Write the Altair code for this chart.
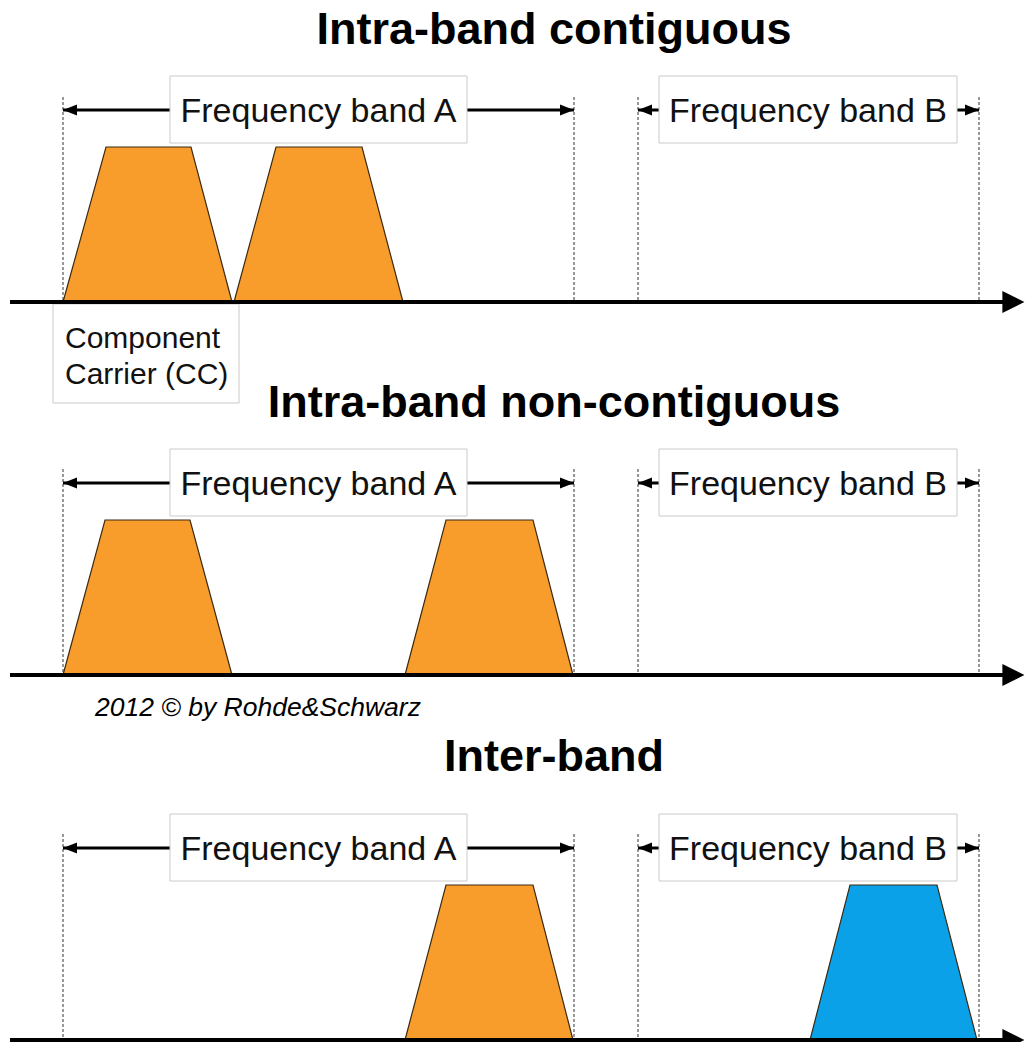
import altair as alt
import pandas as pd

# ---- diagram data (frequency positions / levels, in picture units) ----
panel_titles = ["Intra-band contiguous", "Intra-band non-contiguous", "Inter-band"]
title_y = [44, 417, 778]
axis_y = [302, 675, 1047]
band_arrow_y = [110, 483, 855]
box_top = [76, 449, 821]
box_bottom = [143, 516, 888]
dash_top = [97, 469, 841]

band_names = ["Frequency band A", "Frequency band B"]
band_edges = [(63, 574), (638, 979)]
band_box_x = [(170, 467), (659, 957)]

carrier_height = 155
# carriers: panel index, lower edge, top-left, top-right, upper edge, colour
carrier_panel = [0, 0, 1, 1, 2, 2]
carrier_f0 = [63, 234, 63, 405, 405, 810]
carrier_f1 = [106, 276, 105, 446, 446, 850]
carrier_f2 = [191, 362, 190, 533, 533, 937]
carrier_f3 = [232, 403, 232, 573, 573, 977]
carrier_color = ["#F89D2C", "#F89D2C", "#F89D2C", "#F89D2C", "#F89D2C", "#0AA1E8"]

cc_label = ["Component", "Carrier (CC)"]
cc_label_y = [348, 384]
cc_box = (53, 239, 304, 403)

copyright_text = "2012 \u00a9 by Rohde&Schwarz"
copyright_pos = (95, 716)

axis_start, axis_end = 10, 1013
axis_tip = 1033

FONT = "Liberation Sans"

# ---- scales (picture units; piecewise so the page margin is absorbed in blank space) ----
W, H = 1018, 1034
xs = alt.Scale(domain=[8, 990, 1035], range=[0, 982, W], nice=False, zero=False)
ys = alt.Scale(domain=[8, 720, 745, 1049], range=[0, 712, 730, H], nice=False, zero=False)
X = lambda f, **k: alt.X(f, type="quantitative", scale=xs, axis=None, **k)
Y = lambda f, **k: alt.Y(f, type="quantitative", scale=ys, axis=None, **k)

trap_rows = []
for i, p in enumerate(carrier_panel):
    base = axis_y[p]
    top = base - carrier_height
    for fx, fy in [(carrier_f0[i], base), (carrier_f1[i], top),
                   (carrier_f2[i], top), (carrier_f3[i], base)]:
        trap_rows.append({"id": i, "f": fx, "lvl": fy, "base": base, "color": carrier_color[i]})
trap_df = pd.DataFrame(trap_rows)

dash_rows = []
for p in range(3):
    for (a, b) in band_edges:
        for e in (a, b):
            dash_rows.append({"x": e, "y1": dash_top[p], "y2": axis_y[p]})
dash_df = pd.DataFrame(dash_rows)

arrow_rows, lhead, rhead, box_rows, lab_rows = [], [], [], [], []
for p in range(3):
    for j, (a, b) in enumerate(band_edges):
        arrow_rows.append({"x1": a, "x2": b, "y": band_arrow_y[p]})
        lhead.append({"x": a, "y": band_arrow_y[p]})
        rhead.append({"x": b, "y": band_arrow_y[p]})
        bx0, bx1 = band_box_x[j]
        box_rows.append({"x1": bx0, "x2": bx1, "y1": box_top[p], "y2": box_bottom[p]})
        lab_rows.append({"x": (bx0 + bx1) / 2, "y": band_arrow_y[p] + 12, "t": band_names[j]})
arrow_df = pd.DataFrame(arrow_rows)
lhead_df = pd.DataFrame(lhead)
rhead_df = pd.DataFrame(rhead)
box_df = pd.DataFrame(box_rows + [{"x1": cc_box[0], "x2": cc_box[1], "y1": cc_box[2], "y2": cc_box[3]}])
lab_df = pd.DataFrame(lab_rows)

axis_df = pd.DataFrame({"x1": [axis_start] * 3, "x2": [axis_end] * 3, "y": axis_y})
axis_head_df = pd.DataFrame({"x": [axis_tip] * 3, "y": axis_y})
title_df = pd.DataFrame({"x": [554] * 3, "y": title_y, "t": panel_titles})
cc_df = pd.DataFrame({"x": [65, 65], "y": cc_label_y, "t": cc_label})
copy_df = pd.DataFrame({"x": [copyright_pos[0]], "y": [copyright_pos[1]], "t": [copyright_text]})

# ---- layers ----
dashes = alt.Chart(dash_df).mark_rule(color="#333", strokeWidth=1, strokeDash=[3, 2]).encode(
    x=X("x"), y=Y("y1"), y2="y2")

arrows = alt.Chart(arrow_df).mark_rule(color="black", strokeWidth=3).encode(
    x=X("x1"), x2="x2", y=Y("y"))
lh = alt.Chart(lhead_df).mark_point(shape="M0,0L2,-0.8L2,0.8Z", filled=True, opacity=1,
                                    color="black", size=196).encode(x=X("x"), y=Y("y"))
rh = alt.Chart(rhead_df).mark_point(shape="M0,0L-2,-0.8L-2,0.8Z", filled=True, opacity=1,
                                    color="black", size=196).encode(x=X("x"), y=Y("y"))

boxes = alt.Chart(box_df).mark_rect(fill="white", stroke="#cacaca", strokeWidth=1).encode(
    x=X("x1"), x2="x2", y=Y("y1"), y2="y2")

labels = alt.Chart(lab_df).mark_text(font=FONT, fontSize=34, color="#111", align="center",
                                     baseline="alphabetic").encode(x=X("x"), y=Y("y"), text="t")

traps = alt.Chart(trap_df).mark_area(stroke="#3b2a12", strokeWidth=1.2, opacity=1).encode(
    x=X("f"), y=Y("lvl"), y2="base", detail="id:N", fill=alt.Fill("color:N", scale=None))

axes = alt.Chart(axis_df).mark_rule(color="black", strokeWidth=4).encode(
    x=X("x1"), x2="x2", y=Y("y"))
axis_heads = alt.Chart(axis_head_df).mark_point(shape="M0,0L-2,-1L-2,1Z", filled=True, opacity=1,
                                                color="black", size=484).encode(x=X("x"), y=Y("y"))

titles = alt.Chart(title_df).mark_text(font=FONT, fontSize=45, fontWeight="bold", color="black",
                                       align="center", baseline="alphabetic").encode(
    x=X("x"), y=Y("y"), text="t")

cc_text = alt.Chart(cc_df).mark_text(font=FONT, fontSize=30, color="#111", align="left",
                                     baseline="alphabetic").encode(x=X("x"), y=Y("y"), text="t")

copy_text = alt.Chart(copy_df).mark_text(font=FONT, fontSize=26.5, fontStyle="italic", color="black",
                                         align="left", baseline="alphabetic").encode(
    x=X("x"), y=Y("y"), text="t")

chart = alt.layer(dashes, arrows, lh, rh, boxes, labels, traps, axes, axis_heads,
                  titles, cc_text, copy_text).properties(
    width=W, height=H, padding=0, autosize=alt.AutoSizeParams(type="none"),
    background="white"
).configure_view(stroke=None)

chart.save("out.html", embed_options={"renderer": "svg", "actions": False})
